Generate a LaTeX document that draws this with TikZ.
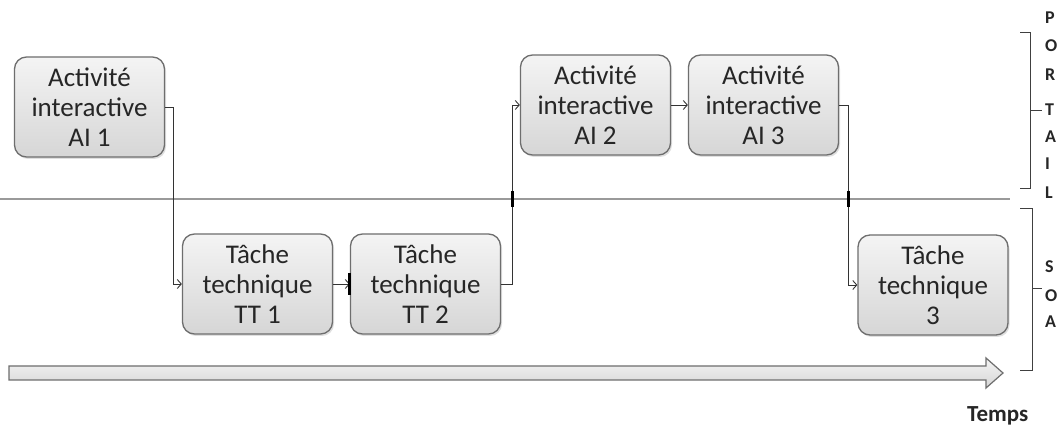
\documentclass[tikz,border=0pt]{standalone}
\usepackage{fontspec}
\setmainfont{Carlito}
\usetikzlibrary{arrows.meta,shadows,calc}
\definecolor{boxline}{HTML}{6E6E6E}
\definecolor{boxtop}{HTML}{F4F4F4}
\definecolor{boxbot}{HTML}{D6D6D6}
\definecolor{txt}{HTML}{262626}
\definecolor{sepline}{HTML}{9A9A9A}
\tikzset{
  task/.style={draw=boxline, line width=1.3pt, rounded corners=12pt,
    top color=boxtop, bottom color=boxbot, minimum width=150pt, minimum height=100pt,
    align=center, text=txt, font=\fontsize{27}{30}\selectfont,
    drop shadow={shadow xshift=1.5pt, shadow yshift=-2pt, opacity=0.25}},
  flow/.style={draw=black!80, line width=0.8pt},
  tip/.style={-{Straight Barb[length=4pt,width=9pt,line width=0.9pt]}},
  tick/.style={draw=black, line width=3pt},
  letter/.style={font=\bfseries\fontsize{18}{18}\selectfont, text=black!85, anchor=west, inner sep=0pt},
  brace/.style={draw=black!75, line width=0.9pt}
}
\begin{document}
\begin{tikzpicture}[x=1pt,y=-1pt]
\useasboundingbox (0,0) rectangle (1058,430);
\fill[white] (0,0) rectangle (1058,430);

% separator between the two levels
\draw[sepline, line width=1.6pt] (0,199) -- (1010,199);

% activities and tasks
\node[task] (ai1) at (89.5,107) {Activité\\interactive\\AI 1};
\node[task] (tt1) at (257.5,284) {Tâche\\technique\\TT 1};
\node[task] (tt2) at (425.5,284) {Tâche\\technique\\TT 2};
\node[task] (ai2) at (595.5,105) {Activité\\interactive\\AI 2};
\node[task] (ai3) at (763.5,105) {Activité\\interactive\\AI 3};
\node[task] (tt3) at (933,285) {Tâche\\technique\\3};

% sequence connectors
\coordinate (c1) at ($(ai1.east)+(8,0)$);
\draw[flow,tip] (ai1.east) -- (c1) |- (tt1.west);
\draw[flow,tip] (tt1.east) -- (tt2.west);
\draw[tick] ($(tt2.west)+(0,-11)$) -- ($(tt2.west)+(0,11)$);
\coordinate (c2) at ($(tt2.east)+(11,0)$);
\draw[flow,tip] (tt2.east) -- (c2) |- (ai2.west);
\draw[tick] ($(c2|-0,199)+(0,-8)$) -- ($(c2|-0,199)+(0,8)$);
\draw[flow,tip] (ai2.east) -- (ai3.west);
\coordinate (c3) at ($(ai3.east)+(9,0)$);
\draw[flow,tip] (ai3.east) -- (c3) |- (tt3.west);
\draw[tick] ($(c3|-0,199)+(0,-8)$) -- ($(c3|-0,199)+(0,8)$);

% time axis
\draw[boxline, line width=1.2pt, top color=boxtop, bottom color=boxbot]
  (9,366) -- (986,366) -- (986,358) -- (1003,373) -- (986,388) -- (986,380) -- (9,380) -- cycle;
\node[font=\bfseries\fontsize{23}{23}\selectfont, text=black!85, anchor=west, inner sep=0pt] (temps) at (967,416) {Temps};

% level brackets
\draw[brace] (1020,32) -- (1030,32) -- (1030,188) -- (1020,188);
\draw[brace] (1030,110) -- (1042,110);
\draw[brace] (1020,208) -- (1032,208) -- (1032,370) -- (1020,370);
\draw[brace] (1032,288) -- (1042,288);

% level labels, one letter per line
\foreach \l/\y [count=\i] in {P/18,O/46,R/75,T/110,A/137,I/164,L/193}
  \node[letter] (p\i) at (1045,\y) {\l};
\foreach \l/\y [count=\i] in {S/267,O/296,A/322}
  \node[letter] (s\i) at (1045,\y) {\l};
\end{tikzpicture}
\end{document}
